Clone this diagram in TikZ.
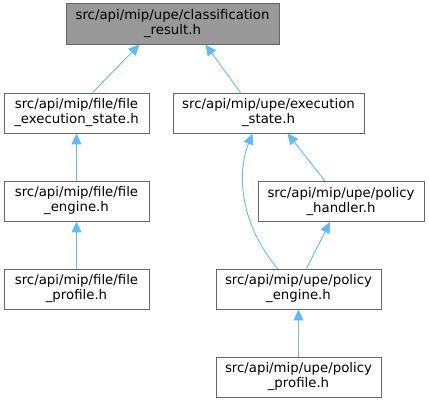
\documentclass[tikz,border=0pt]{standalone}
\usepackage{fontspec}
\setmainfont{DejaVu Sans}
\usetikzlibrary{arrows.meta}
\definecolor{edgeblue}{HTML}{63B8FF}
\definecolor{topgray}{HTML}{999999}
\definecolor{boxline}{HTML}{666666}
\begin{document}
\begin{tikzpicture}[x=1pt,y=-1pt,
  box/.style={draw=boxline,line width=0.9pt,fill=white,inner sep=0pt,minimum height=40pt,
    align=center,font=\fontsize{13.3}{15}\selectfont},
  edge/.style={draw=edgeblue,line width=0.9pt,-{Triangle[length=11pt,width=10pt]}}]
\useasboundingbox (0,0) rectangle (429,403);
\node[box,fill=topgray,minimum width=213pt,minimum height=41pt] (top) at (172.5,23.5) {src/api/mip/upe/classification\\\_result.h};
\node[box,minimum width=145pt] (fes) at (76.5,113) {src/api/mip/file/file\\\_execution\_state.h};
\node[box,minimum width=191pt] (es) at (268.5,113) {src/api/mip/upe/execution\\\_state.h};
\node[box,minimum width=145pt] (fe) at (76.5,201) {src/api/mip/file/file\\\_engine.h};
\node[box,minimum width=166pt] (ph) at (341,201.5) {src/api/mip/upe/policy\\\_handler.h};
\node[box,minimum width=145pt] (fp) at (76.5,289) {src/api/mip/file/file\\\_profile.h};
\node[box,minimum width=165pt] (pe) at (298.5,289) {src/api/mip/upe/policy\\\_engine.h};
\node[box,minimum width=165pt] (pp) at (298.5,377) {src/api/mip/upe/policy\\\_profile.h};
\draw[edge] ([xshift=16pt]fes.north) -- ([xshift=-33pt]top.south);
\draw[edge] ([xshift=-28pt]es.north) -- ([xshift=33pt]top.south);
\draw[edge] (fe.north) -- (fes.south);
\draw[edge] (fp.north) -- (fe.south);
\draw[edge] ([xshift=-16pt]ph.north) -- ([xshift=19pt]es.south);
\draw[edge] ([xshift=-21pt]pe.north) .. controls (241,225) and (236,175) .. ([xshift=-16pt]es.south);
\draw[edge] ([xshift=8pt]pe.north) -- ([xshift=-11pt]ph.south);
\draw[edge] (pp.north) -- (pe.south);
\end{tikzpicture}
\end{document}
